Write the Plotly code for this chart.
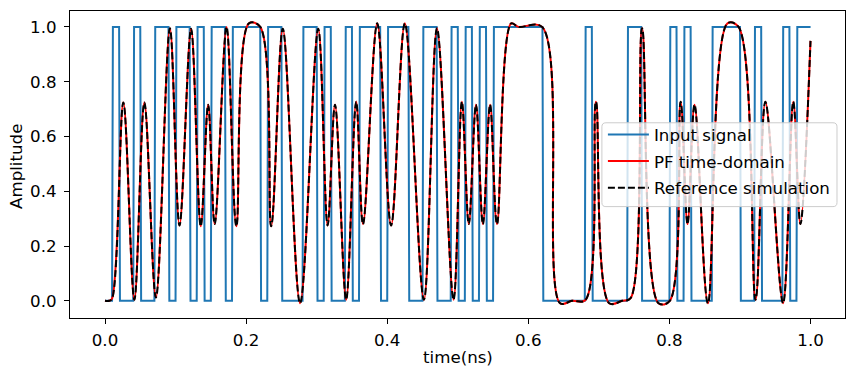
import plotly.graph_objects as go

# ---- data ----
bit_period = 0.01  # ns
bits = [0, 1, 0, 0, 1, 0, 0, 1, 1, 0,
        1, 1, 0, 1, 0, 1, 1, 0, 1, 1,
        1, 1, 0, 1, 1, 0, 0, 0, 1, 1,
        0, 1, 0, 0, 1, 0, 1, 1, 1, 0,
        1, 1, 1, 0, 0, 1, 1, 0, 0, 1,
        0, 1, 0, 1, 0, 1, 1, 1, 1, 1,
        1, 1, 0, 0, 0, 0, 0, 0, 1, 0,
        0, 0, 0, 0, 1, 1, 0, 0, 0, 0,
        1, 0, 1, 0, 0, 0, 1, 1, 1, 1,
        0, 0, 1, 0, 0, 0, 1, 0, 1, 1]
rise_time = 0.0012

out_t = [0.000, 0.006, 0.0100, 0.0260, 0.0416, 0.0558, 0.0722, 0.0920, 0.1056, 0.1220,
         0.1357, 0.1462, 0.1555, 0.1723, 0.1862, 0.2040, 0.2200, 0.2355, 0.2520, 0.2765,
         0.3022, 0.3155, 0.3260, 0.3418, 0.3560, 0.3657, 0.3858, 0.4055, 0.4250, 0.4520,
         0.4705, 0.4940, 0.5058, 0.5156, 0.5258, 0.5356, 0.5458, 0.5556, 0.5757, 0.5860,
         0.6195, 0.6450, 0.6620, 0.6810, 0.6958, 0.7146, 0.7330, 0.7450, 0.7612, 0.7845,
         0.8005, 0.8158, 0.8256, 0.8356, 0.8545, 0.8822, 0.8980, 0.9220, 0.9360, 0.9610,
         0.9755, 0.9856, 0.9999]
out_v = [0.000, 0.000, 0.008, 0.724, 0.004, 0.724, 0.012, 0.995, 0.275, 0.993,
         0.272, 0.716, 0.280, 1.000, 0.272, 1.013, 1.000, 0.272, 0.993, -0.009,
         0.993, 0.275, 0.716, 0.004, 0.727, 0.280, 1.013, 0.275, 1.013, 0.004,
         0.995, 0.004, 0.727, 0.280, 0.716, 0.280, 0.716, 0.280, 1.013, 1.000,
         1.000, -0.009, 0.000, 0.003, 0.727, -0.009, 0.000, 0.010, 0.995, -0.009,
         0.000, 0.727, 0.280, 0.716, -0.009, 1.013, 1.000, 0.004, 0.727, -0.009,
         0.727, 0.280, 0.949]

x_ticks = [0.0, 0.2, 0.4, 0.6, 0.8, 1.0]
y_ticks = [0.0, 0.2, 0.4, 0.6, 0.8, 1.0]

# ---- input waveform built from the bit list ----
in_t = [0.0]
in_v = [bits[0]]
for k in range(1, len(bits)):
    if bits[k] != bits[k - 1]:
        t0 = k * bit_period
        in_t += [t0, t0 + rise_time]
        in_v += [bits[k - 1], bits[k]]
in_t.append(len(bits) * bit_period)
in_v.append(bits[-1])

FONT = "DejaVu Sans"
FS = 16.67
W, H = 854, 379
L, R, T, B = 70, 844.7, 10.7, 318.3   # plot area in pixels
pw, ph = R - L, B - T


def px_x(p):
    return (p - L) / pw


def px_y(p):
    return (B - p) / ph


fig = go.Figure()
fig.add_trace(go.Scatter(x=in_t, y=in_v, mode="lines", name="Input signal",
                         legendgroup="a",
                         line=dict(color="#1f77b4", width=2)))
fig.add_trace(go.Scatter(x=out_t, y=out_v, mode="lines", name="PF time-domain",
                         legendgroup="b",
                         line=dict(color="red", width=2, shape="spline", smoothing=1.0)))
fig.add_trace(go.Scatter(x=out_t, y=out_v, mode="lines", name="Reference simulation",
                         legendgroup="c",
                         line=dict(color="black", width=2, dash="7px,3px",
                                   shape="spline", smoothing=1.0)))

axis_common = dict(showline=True, mirror=True, linecolor="black", linewidth=1.1,
                   ticks="outside", ticklen=5, tickwidth=1.1, tickcolor="black",
                   showgrid=False, zeroline=False, tickformat=".1f",
                   tickfont=dict(family=FONT, size=FS, color="black"))
fig.update_xaxes(range=[-0.0496, 1.0488], tickvals=x_ticks, ticklabelstandoff=2,
                 **axis_common)
fig.update_yaxes(range=[-0.0627, 1.058], tickvals=y_ticks, ticklabelstandoff=4,
                 **axis_common)

fig.add_annotation(text="time(ns)", xref="paper", yref="paper",
                   x=0.5, y=px_y(358), xanchor="center", yanchor="middle",
                   showarrow=False, font=dict(family=FONT, size=FS, color="black"))
fig.add_annotation(text="Amplitude", xref="paper", yref="paper",
                   x=px_x(17), y=px_y(166), xanchor="center", yanchor="middle",
                   textangle=-90, showarrow=False,
                   font=dict(family=FONT, size=FS, color="black"))

# legend frame (semi-transparent, rounded) drawn over the curves
bx0, bx1, by0, by1 = 601.7, 836.7, 122.7, 206.7
r = 4.0
X = lambda p: f"{px_x(p):.6f}"
Y = lambda p: f"{px_y(p):.6f}"
path = (f"M {X(bx0 + r)},{Y(by0)} L {X(bx1 - r)},{Y(by0)} "
        f"Q {X(bx1)},{Y(by0)} {X(bx1)},{Y(by0 + r)} L {X(bx1)},{Y(by1 - r)} "
        f"Q {X(bx1)},{Y(by1)} {X(bx1 - r)},{Y(by1)} L {X(bx0 + r)},{Y(by1)} "
        f"Q {X(bx0)},{Y(by1)} {X(bx0)},{Y(by1 - r)} L {X(bx0)},{Y(by0 + r)} "
        f"Q {X(bx0)},{Y(by0)} {X(bx0 + r)},{Y(by0)} Z")
fig.add_shape(type="path", path=path, xref="paper", yref="paper", layer="above",
              fillcolor="rgba(255,255,255,0.8)", line=dict(color="#cccccc", width=1))

fig.update_layout(
    width=W, height=H,
    margin=dict(l=L, r=W - R, t=T, b=H - B),
    plot_bgcolor="white", paper_bgcolor="white",
    font=dict(family=FONT, size=FS, color="black"),
    legend=dict(x=px_x(602.7), y=px_y(117),
                xanchor="left", yanchor="top",
                bgcolor="rgba(0,0,0,0)", borderwidth=0,
                font=dict(family=FONT, size=FS, color="black"),
                tracegroupgap=2, itemwidth=41),
    showlegend=True,
)
fig.write_html("out.html", config={"displayModeBar": False},
               post_script="document.body.style.margin='0';document.body.style.padding='0';")
